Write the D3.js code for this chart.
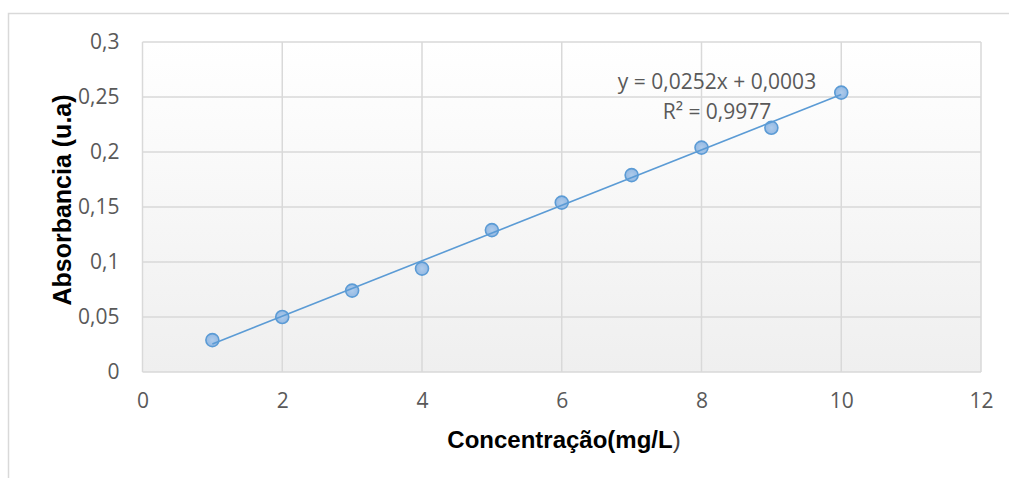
<!DOCTYPE html>
<html>
<head>
<meta charset="utf-8">
<script src="https://cdn.jsdelivr.net/npm/d3@7"></script>
<style>
  html, body { margin: 0; padding: 0; background: #ffffff; }
  svg { display: block; }
</style>
</head>
<body>
<svg id="chart" width="1009" height="478"></svg>
<script>
// Calibration data: concentration (mg/L) vs absorbance (u.a)
const concentrations = [1, 2, 3, 4, 5, 6, 7, 8, 9, 10];
const absorbances = [0.029, 0.050, 0.074, 0.094, 0.129, 0.154, 0.179, 0.204, 0.222, 0.254];

// Linear trendline y = slope·x + intercept
const slope = 0.0252;
const intercept = 0.0003;
const rSquared = 0.9977;

const xTicks = [0, 2, 4, 6, 8, 10, 12];
const yTicks = [0, 0.05, 0.1, 0.15, 0.2, 0.25, 0.3];

const fmt = v => String(v).replace(".", ",");

const svg = d3.select("#chart");
const W = 1009, H = 478;
const plot = { left: 142.5, top: 42, right: 981, bottom: 372 };

const x = d3.scaleLinear().domain([0, 12]).range([plot.left, plot.right]);
const y = d3.scaleLinear().domain([0, 0.3]).range([plot.bottom, plot.top]);

const labelFont = "'Open Sans', 'Noto Sans', sans-serif";
const titleFont = "'Liberation Sans', Arial, sans-serif";

// Outer chart border (extends past the visible frame)
svg.append("rect")
  .attr("x", 8.5).attr("y", 13.5)
  .attr("width", W + 20).attr("height", H + 20)
  .attr("fill", "#ffffff")
  .attr("stroke", "#d9d9d9").attr("stroke-width", 1.5);

// Plot area background gradient
const defs = svg.append("defs");
const grad = defs.append("linearGradient")
  .attr("id", "plotBg").attr("x1", 0).attr("y1", 0).attr("x2", 0).attr("y2", 1);
grad.append("stop").attr("offset", "0%").attr("stop-color", "#ffffff");
grad.append("stop").attr("offset", "100%").attr("stop-color", "#efefef");

const mgrad = defs.append("radialGradient").attr("id", "markerFill");
mgrad.append("stop").attr("offset", "0%").attr("stop-color", "#aecbeb");
mgrad.append("stop").attr("offset", "100%").attr("stop-color", "#94b9e3");

svg.append("rect")
  .attr("x", plot.left).attr("y", plot.top)
  .attr("width", plot.right - plot.left).attr("height", plot.bottom - plot.top)
  .attr("fill", "url(#plotBg)");

// Gridlines
const grid = svg.append("g").attr("stroke", "#d9d9d9").attr("stroke-width", 1.5);
grid.selectAll("line.v").data(xTicks).join("line")
  .attr("x1", d => x(d)).attr("x2", d => x(d))
  .attr("y1", plot.top).attr("y2", plot.bottom);
grid.selectAll("line.h").data(yTicks).join("line")
  .attr("x1", plot.left).attr("x2", plot.right)
  .attr("y1", d => y(d)).attr("y2", d => y(d));

// Axes (labels only, no tick marks or domain line)
const xAxis = svg.append("g")
  .attr("transform", `translate(0,${plot.bottom})`)
  .call(d3.axisBottom(x).tickValues(xTicks).tickFormat(fmt).tickSize(0).tickPadding(21));
const yAxis = svg.append("g")
  .attr("transform", `translate(${plot.left},0)`)
  .call(d3.axisLeft(y).tickValues(yTicks).tickFormat(fmt).tickSize(0).tickPadding(23));
[xAxis, yAxis].forEach(g => {
  g.select(".domain").remove();
  g.selectAll("text")
    .attr("fill", "#595959")
    .style("font-family", labelFont)
    .style("font-size", "21px");
});

// Data markers
svg.append("g").selectAll("circle")
  .data(concentrations.map((c, i) => [c, absorbances[i]]))
  .join("circle")
  .attr("cx", d => x(d[0])).attr("cy", d => y(d[1]))
  .attr("r", 6.5)
  .attr("fill", "url(#markerFill)")
  .attr("stroke", "#5b9bd5").attr("stroke-width", 1.6);

// Trendline over the data range
const x0 = d3.min(concentrations), x1 = d3.max(concentrations);
svg.append("line")
  .attr("x1", x(x0)).attr("y1", y(slope * x0 + intercept))
  .attr("x2", x(x1)).attr("y2", y(slope * x1 + intercept))
  .attr("stroke", "#5b9bd5").attr("stroke-width", 1.6);

// Trendline equation
const eq = svg.append("g")
  .style("font-family", labelFont)
  .style("font-size", "21px")
  .attr("fill", "#595959")
  .attr("text-anchor", "middle");
eq.append("text").attr("x", 717).attr("y", 89)
  .text(`y = ${fmt(slope)}x + ${fmt(intercept)}`);
eq.append("text").attr("x", 717).attr("y", 119)
  .text(`R² = ${fmt(rSquared)}`);

// Axis titles
const xt = svg.append("text")
  .attr("x", 564).attr("y", 448)
  .attr("text-anchor", "middle")
  .style("font-family", titleFont)
  .style("font-size", "24px");
xt.append("tspan").attr("font-weight", "bold").attr("fill", "#000000").text("Concentração(mg/L");
xt.append("tspan").attr("fill", "#404040").text(")");

svg.append("text")
  .attr("transform", "translate(71,200) rotate(-90)")
  .attr("text-anchor", "middle")
  .attr("font-weight", "bold")
  .attr("fill", "#000000")
  .style("font-family", titleFont)
  .style("font-size", "25px")
  .text("Absorbancia (u.a)");
</script>
</body>
</html>
